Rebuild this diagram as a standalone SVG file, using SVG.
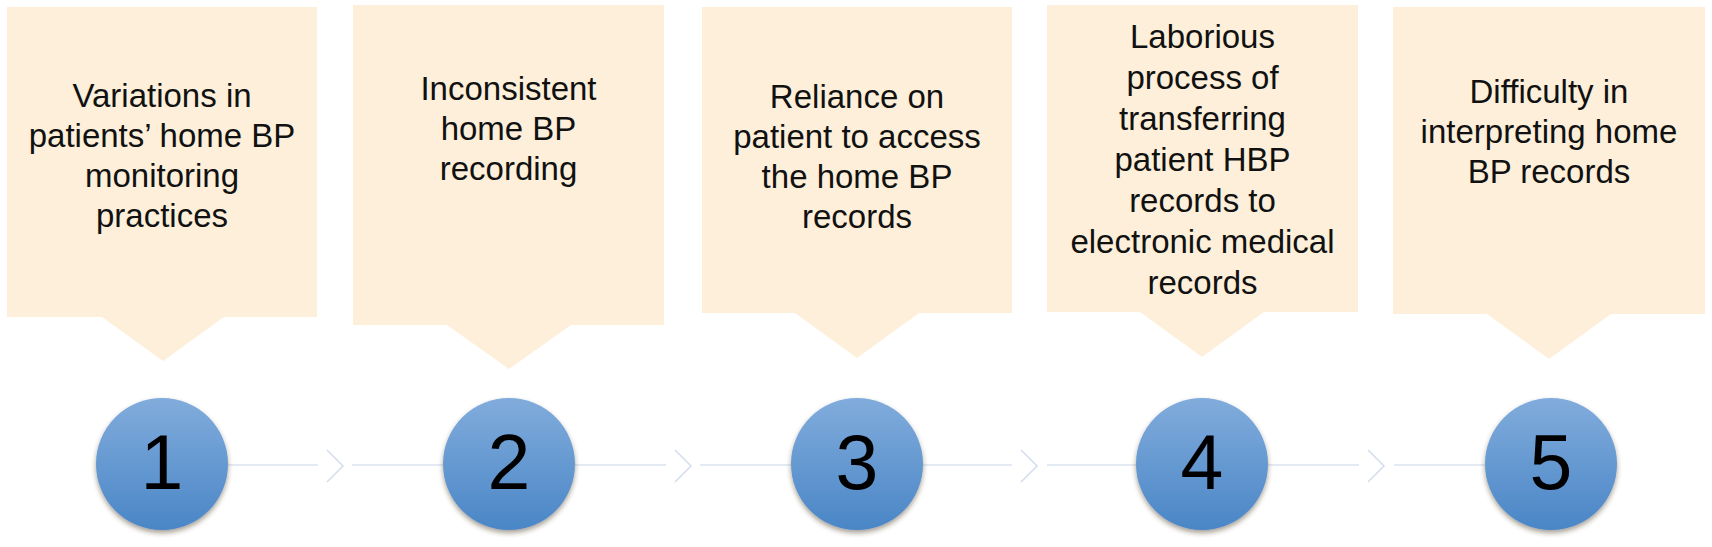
<svg xmlns="http://www.w3.org/2000/svg" width="1712" height="547" viewBox="0 0 1712 547">
<style>
.box{fill:#fdefd9}
.t{font-family:"Liberation Sans",Arial,sans-serif;font-size:33px;fill:#111;text-anchor:middle}
.num{font-family:"Liberation Sans",Arial,sans-serif;font-size:77px;fill:#000;text-anchor:middle}
.ln{stroke:#dbe3ef;stroke-width:1.5;fill:none}
.chev{stroke:#d3dded;stroke-width:1.5;fill:none}
.circ{fill:url(#cg);filter:url(#sh)}
</style>
<defs>
<linearGradient id="cg" x1="0" y1="0" x2="0" y2="1">
<stop offset="0" stop-color="#81acdc"/>
<stop offset="1" stop-color="#4a86c6"/>
</linearGradient>
<filter id="sh" x="-20%" y="-20%" width="140%" height="150%">
<feDropShadow dx="0" dy="3" stdDeviation="2.5" flood-color="#3a2a1a" flood-opacity="0.45"/>
</filter>
</defs>
<rect width="1712" height="547" fill="#ffffff"/>
<g id="connectors">
<line class="ln" x1="228" y1="465" x2="318" y2="465"/>
<polyline class="chev" points="327,450 343,466 327,482"/>
<line class="ln" x1="352" y1="465" x2="443" y2="465"/>
<line class="ln" x1="575" y1="465" x2="666" y2="465"/>
<polyline class="chev" points="675,450 691,466 675,482"/>
<line class="ln" x1="700" y1="465" x2="791" y2="465"/>
<line class="ln" x1="923" y1="465" x2="1012" y2="465"/>
<polyline class="chev" points="1021,450 1037,466 1021,482"/>
<line class="ln" x1="1047" y1="465" x2="1136" y2="465"/>
<line class="ln" x1="1268" y1="465" x2="1359" y2="465"/>
<polyline class="chev" points="1368,450 1384,466 1368,482"/>
<line class="ln" x1="1394" y1="465" x2="1485" y2="465"/>
</g>
<g id="box1">
<path class="box" d="M7,7 H317 V317 H224 L163,361 L102,317 H7 Z"/>
<text class="t" x="162"><tspan x="162" y="107">Variations in</tspan><tspan x="162" y="147">patients’ home BP</tspan><tspan x="162" y="187">monitoring</tspan><tspan x="162" y="227">practices</tspan></text>
</g>
<g id="box2">
<path class="box" d="M353,5 H664 V325 H571 L509,369 L447,325 H353 Z"/>
<text class="t"><tspan x="508.5" y="100">Inconsistent</tspan><tspan x="508.5" y="140">home BP</tspan><tspan x="508.5" y="180">recording</tspan></text>
</g>
<g id="box3">
<path class="box" d="M702,7 H1012 V313 H919 L857,358 L795,313 H702 Z"/>
<text class="t"><tspan x="857" y="108">Reliance on</tspan><tspan x="857" y="148">patient to access</tspan><tspan x="857" y="188">the home BP</tspan><tspan x="857" y="228">records</tspan></text>
</g>
<g id="box4">
<path class="box" d="M1047,5 H1358 V312 H1264 L1202,357 L1140,312 H1047 Z"/>
<text class="t"><tspan x="1202.5" y="48">Laborious</tspan><tspan x="1202.5" y="89">process of</tspan><tspan x="1202.5" y="130">transferring</tspan><tspan x="1202.5" y="171">patient HBP</tspan><tspan x="1202.5" y="212">records to</tspan><tspan x="1202.5" y="253">electronic medical</tspan><tspan x="1202.5" y="294">records</tspan></text>
</g>
<g id="box5">
<path class="box" d="M1393,7 H1705 V314 H1611 L1549,359 L1487,314 H1393 Z"/>
<text class="t"><tspan x="1549" y="103">Difficulty in</tspan><tspan x="1549" y="143">interpreting home</tspan><tspan x="1549" y="183">BP records</tspan></text>
</g>
<g id="step1"><circle class="circ" cx="162" cy="464" r="66"/><text class="num" x="162" y="489">1</text></g>
<g id="step2"><circle class="circ" cx="509" cy="464" r="66"/><text class="num" x="509" y="489">2</text></g>
<g id="step3"><circle class="circ" cx="857" cy="464" r="66"/><text class="num" x="857" y="489">3</text></g>
<g id="step4"><circle class="circ" cx="1202" cy="464" r="66"/><text class="num" x="1202" y="489">4</text></g>
<g id="step5"><circle class="circ" cx="1551" cy="464" r="66"/><text class="num" x="1551" y="489">5</text></g>
</svg>
